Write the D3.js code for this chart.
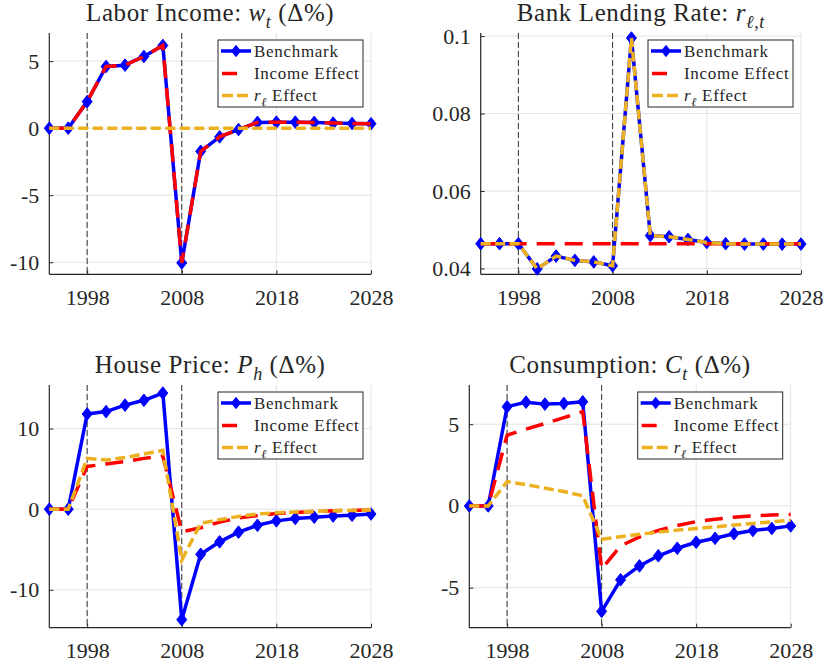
<!DOCTYPE html>
<meta charset="utf-8">
<style>
body { margin: 0; background: #fff; }
svg text { font-family: "Liberation Serif", "DejaVu Serif", "Noto Serif", "Times New Roman", serif; fill: #262626; }
</style>
<svg width="825" height="664"></svg>
<script src="https://cdn.jsdelivr.net/npm/d3@7/dist/d3.min.js"></script>
<script>

// ---- data ----
var years = [1994, 1996, 1998, 2000, 2002, 2004, 2006, 2008, 2010, 2012, 2014, 2016, 2018, 2020, 2022, 2024, 2026, 2028];
var xTicks = [1998, 2008, 2018, 2028];
var eventYears = [1998, 2008];

var laborBench  = [0, 0, 1.98, 4.6, 4.7, 5.35, 6.17, -10.05, -1.73, -0.65, -0.1, 0.43, 0.45, 0.45, 0.43, 0.38, 0.35, 0.33];
var laborIncome = [0, 0, 1.98, 4.6, 4.7, 5.35, 6.17, -10.05, -1.73, -0.65, -0.1, 0.43, 0.45, 0.45, 0.43, 0.38, 0.35, 0.33];
var laborRl     = [0, 0, 0, 0, 0, 0, 0, 0, 0, 0, 0, 0, 0, 0, 0, 0, 0, 0];
var laborTicks  = [-10, -5, 0, 5];

var rateBench  = [0.0464, 0.0464, 0.0464, 0.0399, 0.0432, 0.0421, 0.0417, 0.0407, 0.0995, 0.0485, 0.0482, 0.0475, 0.0467, 0.0464, 0.0463, 0.0463, 0.0463, 0.0463];
var rateIncome = [0.0464, 0.0464, 0.0464, 0.0464, 0.0464, 0.0464, 0.0464, 0.0464, 0.0464, 0.0464, 0.0464, 0.0464, 0.0464, 0.0464, 0.0464, 0.0464, 0.0464, 0.0464];
var rateRl     = [0.0464, 0.0464, 0.0464, 0.0399, 0.0432, 0.0421, 0.0417, 0.0407, 0.0995, 0.0485, 0.0482, 0.0475, 0.0467, 0.0464, 0.0463, 0.0463, 0.0463, 0.0463];
var rateTicks  = [0.04, 0.06, 0.08, 0.1];

var houseBench  = [0, 0, 11.8, 12.1, 12.9, 13.5, 14.4, -13.7, -5.6, -4.05, -2.85, -2.0, -1.45, -1.15, -1.0, -0.85, -0.75, -0.6];
var houseIncome = [0, 0, 5.3, 5.6, 5.9, 6.3, 6.6, -2.8, -2.3, -1.6, -1.1, -0.8, -0.55, -0.4, -0.3, -0.2, -0.15, -0.1];
var houseRl     = [0, 0, 6.3, 6.1, 6.4, 6.85, 7.3, -6.3, -1.75, -1.3, -0.9, -0.6, -0.45, -0.35, -0.25, -0.2, -0.15, -0.1];
var houseTicks  = [-10, 0, 10];

var consBench  = [0, 0, 6.07, 6.35, 6.23, 6.27, 6.37, -6.45, -4.52, -3.67, -3.05, -2.59, -2.22, -1.98, -1.7, -1.5, -1.38, -1.22];
var consIncome = [0, 0, 4.33, 4.7, 5.04, 5.4, 5.77, -3.85, -2.45, -1.9, -1.5, -1.2, -0.96, -0.82, -0.69, -0.61, -0.55, -0.52];
var consRl     = [0, 0, 1.49, 1.3, 1.09, 0.88, 0.62, -2.04, -1.88, -1.73, -1.6, -1.48, -1.38, -1.28, -1.17, -1.07, -0.97, -0.87];
var consTicks  = [-5, 0, 5];

// title / legend text pieces (i = italic, s = subscript)
var laborTitle = [{t: "Labor Income: "}, {t: "w", i: 1}, {t: "t", i: 1, s: 1}, {t: " (Δ%)"}];
var rateTitle  = [{t: "Bank Lending Rate: "}, {t: "r", i: 1}, {t: "ℓ,t", i: 1, s: 1}];
var houseTitle = [{t: "House Price: "}, {t: "P", i: 1}, {t: "h", i: 1, s: 1}, {t: " (Δ%)"}];
var consTitle  = [{t: "Consumption: "}, {t: "C", i: 1}, {t: "t", i: 1, s: 1}, {t: " (Δ%)"}];
var legendLabels = [
  [{t: "Benchmark"}],
  [{t: "Income Effect"}],
  [{t: "r", i: 1}, {t: "ℓ", i: 1, s: 1}, {t: " Effect"}]
];

// ---- layout ----
var svg = d3.select("svg");
var blue = "#0000ff", red = "#ff0000", yellow = "#EDB120", axisCol = "#262626", gridCol = "#e3e3e3";
var serif = "'Liberation Serif', 'DejaVu Serif', 'Noto Serif', serif";

var panels = [
  {box: {l: 49.3, r: 371, t: 33, b: 274.3}, y: [-10.9, 7.1], ticks: laborTicks, title: laborTitle,
   series: [laborBench, laborIncome, laborRl]},
  {box: {l: 480.7, r: 801, t: 33, b: 274.3}, y: [0.0385, 0.1008], ticks: rateTicks, title: rateTitle,
   series: [rateBench, rateIncome, rateRl]},
  {box: {l: 49.3, r: 371, t: 385, b: 627.7}, y: [-14.7, 15.4], ticks: houseTicks, title: houseTitle,
   series: [houseBench, houseIncome, houseRl]},
  {box: {l: 469.3, r: 790.7, t: 385, b: 627.7}, y: [-7.45, 7.4], ticks: consTicks, title: consTitle,
   series: [consBench, consIncome, consRl]}
];

function richText(sel, parts, size) {
  var shift = 0;
  parts.forEach(function(p) {
    var ts = sel.append("tspan").text(p.t);
    if (p.i) ts.style("font-style", "italic");
    var want = p.s ? 0.28 * size : 0;
    if (want !== shift) { ts.attr("dy", want - shift); shift = want; }
    if (p.s) ts.style("font-size", (size * 0.72) + "px");
  });
}

var diamond = "M0,-6.3L5,0L0,6.3L-5,0Z";

panels.forEach(function(p) {
  var b = p.box;
  var x = d3.scaleLinear().domain([years[0], years[years.length - 1]]).range([b.l, b.r]);
  var y = d3.scaleLinear().domain(p.y).range([b.b, b.t]);
  var g = svg.append("g");

  // grid
  g.selectAll(".gy").data(p.ticks).enter().append("line")
    .attr("x1", b.l).attr("x2", b.r).attr("y1", y).attr("y2", y)
    .attr("stroke", gridCol).attr("stroke-width", 1);
  g.selectAll(".gx").data(xTicks).enter().append("line")
    .attr("x1", x).attr("x2", x).attr("y1", b.t).attr("y2", b.b)
    .attr("stroke", gridCol).attr("stroke-width", 1);

  // event lines
  g.selectAll(".ev").data(eventYears).enter().append("line")
    .attr("x1", x).attr("x2", x).attr("y1", b.t).attr("y2", b.b)
    .attr("stroke", "#333").attr("stroke-width", 1).attr("stroke-dasharray", "6,3");

  // axes
  var xAxis = d3.axisBottom(x).tickValues(xTicks).tickSize(-4).tickPadding(15).tickFormat(String);
  var yAxis = d3.axisLeft(y).tickValues(p.ticks).tickSize(-4).tickPadding(10).tickFormat(String);
  var gx = g.append("g").attr("transform", "translate(0," + b.b + ")").call(xAxis);
  var gy = g.append("g").attr("transform", "translate(" + b.l + ",0)").call(yAxis);
  [gx, gy].forEach(function(a) {
    a.attr("font-family", null);
    a.select(".domain").attr("stroke", axisCol).attr("stroke-width", 1.2);
    a.selectAll(".tick line").attr("stroke", axisCol);
    a.selectAll(".tick text").style("font-size", "22px").attr("fill", axisCol)
      .style("font-family", serif);
  });
  gx.select(".domain").attr("d", "M" + b.l + ",0H" + b.r);
  gy.select(".domain").attr("d", "M0," + b.t + "V" + b.b);

  // series
  var pts = function(vals) { return vals.map(function(v, i) { return [years[i], v]; }); };
  var line = d3.line().x(function(d) { return x(d[0]); }).y(function(d) { return y(d[1]); });

  g.append("path").attr("d", line(pts(p.series[0]))).attr("fill", "none")
    .attr("stroke", blue).attr("stroke-width", 3.5).attr("stroke-linejoin", "round");
  g.selectAll(".mk").data(pts(p.series[0])).enter().append("path")
    .attr("d", diamond).attr("fill", blue).attr("stroke", blue).attr("stroke-width", 1)
    .attr("transform", function(d) { return "translate(" + x(d[0]) + "," + y(d[1]) + ")"; });
  g.append("path").attr("d", line(pts(p.series[1]))).attr("fill", "none")
    .attr("stroke", red).attr("stroke-width", 3.5).attr("stroke-dasharray", "18,10");
  g.append("path").attr("d", line(pts(p.series[2]))).attr("fill", "none")
    .attr("stroke", yellow).attr("stroke-width", 3.5).attr("stroke-dasharray", "10,4.5");

  // title
  var tt = g.append("text").attr("x", (b.l + b.r) / 2).attr("y", b.t - 12)
    .attr("text-anchor", "middle").style("font-size", "25px").style("letter-spacing", "0.6px")
    .style("font-family", serif).attr("fill", "#111");
  richText(tt, p.title, 25);

  // legend
  var lw = 145, lh = 67;
  var lg = g.append("g").attr("transform", "translate(" + (b.r - 8 - lw) + "," + (b.t + 7) + ")");
  lg.append("rect").attr("width", lw).attr("height", lh).attr("fill", "#fff")
    .attr("stroke", axisCol).attr("stroke-width", 1);
  var rows = [11, 33.5, 55.5];
  lg.append("line").attr("x1", 3).attr("x2", 33).attr("y1", rows[0]).attr("y2", rows[0])
    .attr("stroke", blue).attr("stroke-width", 3.5);
  lg.append("path").attr("d", diamond).attr("fill", blue).attr("transform", "translate(18," + rows[0] + ")");
  lg.append("line").attr("x1", 4).attr("x2", 19).attr("y1", rows[1]).attr("y2", rows[1])
    .attr("stroke", red).attr("stroke-width", 3.5);
  lg.append("line").attr("x1", 4).attr("x2", 30).attr("y1", rows[2]).attr("y2", rows[2])
    .attr("stroke", yellow).attr("stroke-width", 3.5).attr("stroke-dasharray", "11,4");
  legendLabels.forEach(function(parts, i) {
    var t = lg.append("text").attr("x", 36).attr("y", rows[i] + 5.5)
      .style("font-size", "17px").style("letter-spacing", "0.7px").style("font-family", serif);
    richText(t, parts, 17);
  });
});

</script>
